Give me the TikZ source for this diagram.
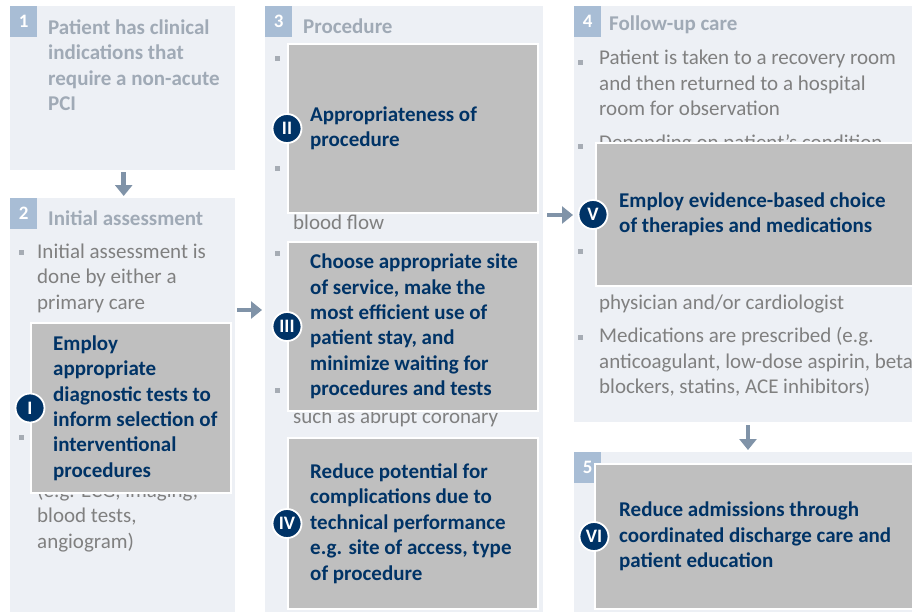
\documentclass[tikz,border=0pt]{standalone}
\usepackage{fontspec}
\setmainfont{Carlito}
\usepackage{xcolor}
\usetikzlibrary{arrows.meta}

\definecolor{panelbg}{RGB}{237,240,245}
\definecolor{numbg}{RGB}{168,189,213}
\definecolor{headtxt}{RGB}{160,170,182}
\definecolor{bodytxt}{RGB}{128,128,128}
\definecolor{bulc}{RGB}{166,172,180}
\definecolor{leverbg}{RGB}{191,191,191}
\definecolor{navy}{RGB}{0,51,102}
\definecolor{arrowc}{RGB}{128,147,168}

\newcommand\bodyfont{\fontsize{21}{25.4}\selectfont}
\newcommand\headfont{\fontsize{21}{25.4}\selectfont\bfseries}
\newcommand\levfont{\fontsize{21}{25.4}\selectfont\bfseries}

\begin{document}
\begin{tikzpicture}[x=1pt, y=-1pt]
\tikzset{
  panel/.style={rectangle,fill=panelbg,draw=none,anchor=north west,inner sep=0pt},
  num/.style={rectangle,fill=numbg,text=white,font=\fontsize{19}{20}\selectfont\bfseries,minimum width=27pt,minimum height=31pt,anchor=north west,inner sep=0pt},
  head/.style={anchor=west,text=headtxt,font=\headfont,align=left,inner sep=0pt},
  body/.style={anchor=west,text=bodytxt,font=\bodyfont,align=left,inner sep=0pt},
  bul/.style={rectangle,fill=bulc,minimum size=5pt,inner sep=0pt},
  lever/.style={rectangle,fill=leverbg,draw=white,line width=2pt,anchor=north west,inner sep=0pt},
  levtxt/.style={anchor=west,text=navy,font=\levfont,align=left,inner sep=0pt},
  badge/.style={circle,fill=navy,draw=white,line width=1.8pt,text=white,font=\fontsize{19}{20}\selectfont\bfseries,minimum size=29pt,inner sep=0pt},
  flow/.style={-{Triangle[width=17pt,length=11pt]},line width=4.5pt,draw=arrowc}
}
\useasboundingbox (0,0) rectangle (912,614);
% ---- panels
\node[panel,minimum width=225pt,minimum height=164pt] (p1) at (10,6) {};
\node[panel,minimum width=225pt,minimum height=414pt] (p2) at (10,198) {};
\node[panel,minimum width=278pt,minimum height=606pt] (p3) at (265,6) {};
\node[panel,minimum width=360pt,minimum height=416pt] (p4) at (574,6) {};
\node[panel,minimum width=360pt,minimum height=160pt] (p5) at (574,452) {};
\node[num] (n1) at (10,6) {1};
\node[num] (n2) at (10,198) {2};
\node[num] (n3) at (265,6) {3};
\node[num] (n4) at (574,6) {4};
\node[num] (n5) at (574,452) {5};
% ---- step 1 and 2
\node[head] (t1) at (48,65) {Patient has clinical\\indications that\\require a non-acute\\PCI};
\node[head] (h2) at (48,218) {Initial assessment};
\node[bul] (b21) at (21.5,252) {};
\node[body] (t21) at (37,278) {Initial assessment is\\done by either a\\primary care};
\node[bul] (b22) at (21.5,437) {};
\node[body] (t22) at (37,517) {(e.g. ECG, imaging,\\blood tests,\\angiogram)};
% ---- step 3
\node[head] (h3) at (303,26) {Procedure};
\node[bul] (b31) at (277.5,58) {};
\node[bul] (b32) at (277.5,168) {};
\node[body] (t32) at (293,222) {blood flow};
\node[bul] (b33) at (277.5,253) {};
\node[bul] (b34) at (277.5,390) {};
\node[body] (t34) at (293,418) {such as abrupt coronary};
% ---- step 4
\node[head] (h4) at (609,25) {Follow-up care};
\node[bul] (b41) at (580,62) {};
\node[body] (t41) at (599,83) {Patient is taken to a recovery room\\and then returned to a hospital\\room for observation};
\node[bul] (b42) at (580,146) {};
\node[body] (t42) at (599,144) {Depending on patient’s condition};
\node[bul] (b43) at (580,251) {};
\node[body] (t43) at (599,304) {physician and/or cardiologist};
\node[bul] (b44) at (580,337) {};
\node[body] (t44) at (599,362) {Medications are prescribed (e.g.\\anticoagulant, low-dose aspirin, beta\\blockers, statins, ACE inhibitors)};
% ---- levers
\node[lever,minimum width=200pt,minimum height=170pt] (l1) at (30,322) {};
\node[lever,minimum width=250pt,minimum height=169pt] (l2) at (287,43) {};
\node[lever,minimum width=250pt,minimum height=169pt] (l3) at (287,241) {};
\node[lever,minimum width=250pt,minimum height=171pt] (l4) at (287,437) {};
\node[lever,minimum width=340pt,minimum height=143pt] (l5) at (595,142) {};
\node[lever,minimum width=340pt,minimum height=145pt] (l6) at (594,463) {};
\node[levtxt] at ([xshift=23pt]l1.west) {Employ\\appropriate\\diagnostic tests to\\inform selection of\\interventional\\procedures};
\node[levtxt] at ([xshift=23pt]l2.west) {Appropriateness of\\procedure};
\node[levtxt] at ([xshift=23pt]l3.west) {Choose appropriate site\\of service, make the\\most efficient use of\\patient stay, and\\minimize waiting for\\procedures and tests};
\node[levtxt] at ([xshift=23pt]l4.west) {Reduce potential for\\complications due to\\technical performance\\e.g. site of access, type\\of procedure};
\node[levtxt] at ([xshift=24pt]l5.west) {Employ evidence-based choice\\of therapies and medications};
\node[levtxt] at ([xshift=25pt]l6.west) {Reduce admissions through\\coordinated discharge care and\\patient education};
\node[badge] (c1) at (l1.west) {I};
\node[badge] (c2) at (l2.west) {II};
\node[badge] (c3) at (l3.west) {III};
\node[badge] (c4) at (l4.west) {IV};
\node[badge] (c5) at ([xshift=-2pt]l5.west) {V};
\node[badge] (c6) at (l6.west) {VI};
% ---- arrows
\coordinate (a23) at (0,310);
\coordinate (a34) at (0,215);
\draw[flow,shorten <=2pt,shorten >=2pt] ([xshift=1pt]p1.south) -- ([xshift=1pt]p2.north);
\draw[flow,shorten <=2pt,shorten >=3pt] (p2.east |- a23) -- (p3.west |- a23);
\draw[flow,shorten <=4pt,shorten >=1pt] (p3.east |- a34) -- (p4.west |- a34);
\draw[flow,shorten <=3pt,shorten >=2pt] (p4.south -| 748,0) -- (p5.north -| 748,0);
\end{tikzpicture}
\end{document}
